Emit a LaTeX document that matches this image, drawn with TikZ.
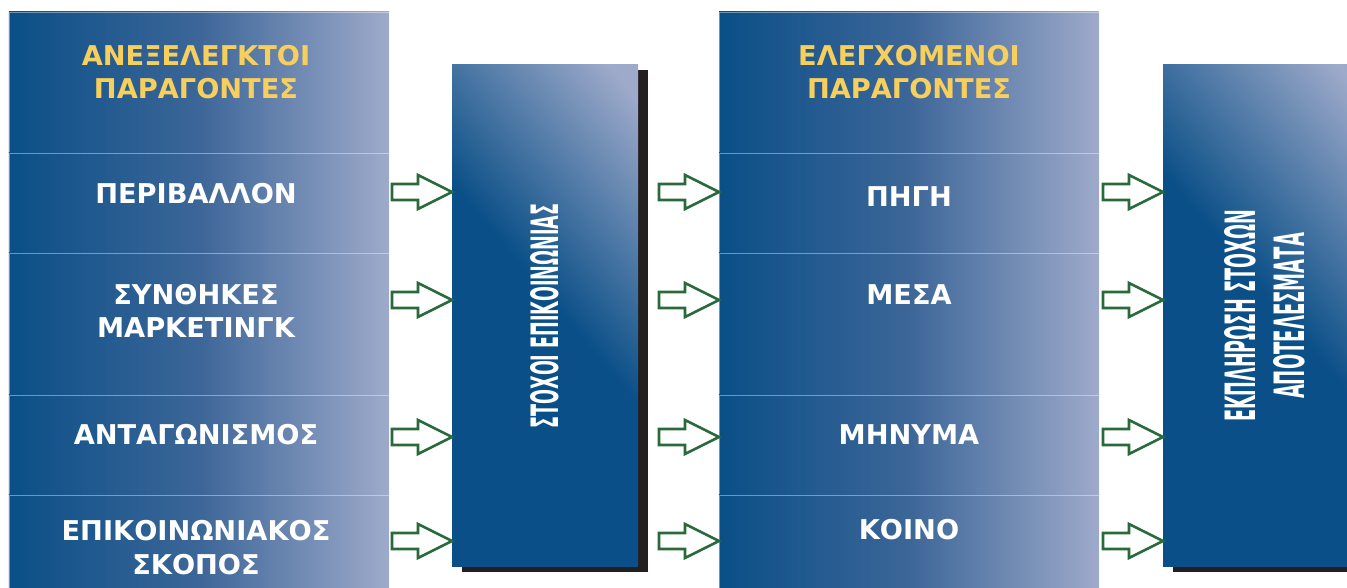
\documentclass[tikz,border=0pt]{standalone}
\usepackage{fontspec}
\setmainfont{DejaVu Sans}
\usepackage{graphicx}
\usepackage{tikz}
\usetikzlibrary{positioning, calc, shadows}
\definecolor{boxdark}{RGB}{10,79,135}
\definecolor{boxmid}{RGB}{60,102,152}
\definecolor{boxlight}{RGB}{158,170,202}
\definecolor{headgold}{RGB}{247,207,92}
\definecolor{arrgreen}{RGB}{40,106,58}
\definecolor{shadowgray}{RGB}{35,31,32}
\pgfdeclareverticalshading{boxfade}{100bp}{color(0bp)=(boxdark); color(52bp)=(boxdark); color(82bp)=(boxlight); color(100bp)=(boxlight)}

\begin{document}
\begin{tikzpicture}[
      rowbox/.style={rectangle, draw=white, draw opacity=0.4, line width=0.4pt, outer sep=0pt, minimum width=7.6cm, left color=boxdark, right color=boxlight, middle color=boxmid},
      bigbox/.style={rectangle, outer sep=0pt, shading=boxfade, shading angle=-50, general shadow={fill=shadowgray, shadow xshift=0.2cm, shadow yshift=-0.1cm}},
      rowtxt/.style={text=white, font=\bfseries\fontsize{15.5}{19}\selectfont, align=center, inner sep=0pt},
      headtxt/.style={rowtxt, text=headgold},
      vtxt/.style={rotate=90, text=white, font=\bfseries\fontsize{20}{27.8}\selectfont, align=center, inner sep=0pt},
      hollowarr/.style={draw=arrgreen, fill=white, line width=1.5pt, line join=miter,
        to path={let \p1=(\tikztostart), \p2=(\tikztotarget.west) in
          (\x2-1.2cm,\y1+0.16cm) -- (\x2-0.68cm,\y1+0.16cm) -- (\x2-0.68cm,\y1+0.34cm) -- (\x2,\y1)
          -- (\x2-0.68cm,\y1-0.34cm) -- (\x2-0.68cm,\y1-0.16cm) -- (\x2-1.2cm,\y1-0.16cm) -- cycle}},
    ]
    \useasboundingbox (0,0) rectangle (26.94,11.76);
    \clip (0,0) rectangle (26.94,11.76);

    % uncontrolled factors
    \node[rowbox, minimum height=2.82cm, anchor=north west] (unc) at (0.18,11.52) {};
    \node[rowbox, minimum height=2cm, below=0pt of unc] (env) {};
    \node[rowbox, minimum height=2.84cm, below=0pt of env] (mkt) {};
    \node[rowbox, minimum height=2cm, below=0pt of mkt] (comp) {};
    \node[rowbox, minimum height=2.1cm, below=0pt of comp] (purp) {};

    \node[headtxt] (unctxt) at (3.92,10.32) {ΑΝΕΞΕΛΕΓΚΤΟΙ\\ΠΑΡΑΓΟΝΤΕΣ};
    \node[rowtxt] (envtxt) at (3.92,7.88) {ΠΕΡΙΒΑΛΛΟΝ};
    \node[rowtxt] (mkttxt) at (3.92,5.54) {ΣΥΝΘΗΚΕΣ\\ΜΑΡΚΕΤΙΝΓΚ};
    \node[rowtxt] (comptxt) at (3.92,3.06) {ΑΝΤΑΓΩΝΙΣΜΟΣ};
    \node[rowtxt] (purptxt) at (3.92,0.81) {ΕΠΙΚΟΙΝΩΝΙΑΚΟΣ\\ΣΚΟΠΟΣ};

    % controlled factors
    \node[rowbox, minimum height=2.82cm, anchor=north west] (ctrl) at (14.38,11.52) {};
    \node[rowbox, minimum height=2cm, below=0pt of ctrl] (src) {};
    \node[rowbox, minimum height=2.84cm, below=0pt of src] (media) {};
    \node[rowbox, minimum height=2cm, below=0pt of media] (msg) {};
    \node[rowbox, minimum height=2.1cm, below=0pt of msg] (aud) {};

    \node[headtxt] (ctrltxt) at (18.18,10.32) {ΕΛΕΓΧΟΜΕΝΟΙ\\ΠΑΡΑΓΟΝΤΕΣ};
    \node[rowtxt] (srctxt) at (18.18,7.82) {ΠΗΓΗ};
    \node[rowtxt] (mediatxt) at (18.18,5.86) {ΜΕΣΑ};
    \node[rowtxt] (msgtxt) at (18.18,3.06) {ΜΗΝΥΜΑ};
    \node[rowtxt] (audtxt) at (18.18,1.16) {ΚΟΙΝΟ};

    % goals and results
    \node[bigbox, minimum width=3.72cm, minimum height=10.04cm] (goals) at (10.90,5.44) {};
    \node[vtxt] (goalstxt) at (goals.center) {\resizebox{4.5cm}{0.56cm}{ΣΤΟΧΟΙ ΕΠΙΚΟΙΝΩΝΙΑΣ}};
    \node[bigbox, minimum width=4.06cm, minimum height=10.04cm] (results) at (25.29,5.44) {};
    \node[vtxt] (restxt) at (results.center) {\resizebox{4.24cm}{0.62cm}{ΕΚΠΛΗΡΩΣΗ ΣΤΟΧΩΝ}\\\resizebox{3.32cm}{0.62cm}{ΑΠΟΤΕΛΕΣΜΑΤΑ}};

    \coordinate (lvl1) at (0,7.92);
    \coordinate (lvl2) at (0,5.76);
    \coordinate (lvl3) at (0,3.02);
    \coordinate (lvl4) at (0,0.94);

    \draw[hollowarr] (env.east |- lvl1) to (goals);
    \draw[hollowarr] (mkt.east |- lvl2) to (goals);
    \draw[hollowarr] (comp.east |- lvl3) to (goals);
    \draw[hollowarr] (purp.east |- lvl4) to (goals);

    \draw[hollowarr] (goals.east |- lvl1) to (src);
    \draw[hollowarr] (goals.east |- lvl2) to (media);
    \draw[hollowarr] (goals.east |- lvl3) to (msg);
    \draw[hollowarr] (goals.east |- lvl4) to (aud);

    \draw[hollowarr] (src.east |- lvl1) to (results);
    \draw[hollowarr] (media.east |- lvl2) to (results);
    \draw[hollowarr] (msg.east |- lvl3) to (results);
    \draw[hollowarr] (aud.east |- lvl4) to (results);
  \end{tikzpicture}
\end{document}
